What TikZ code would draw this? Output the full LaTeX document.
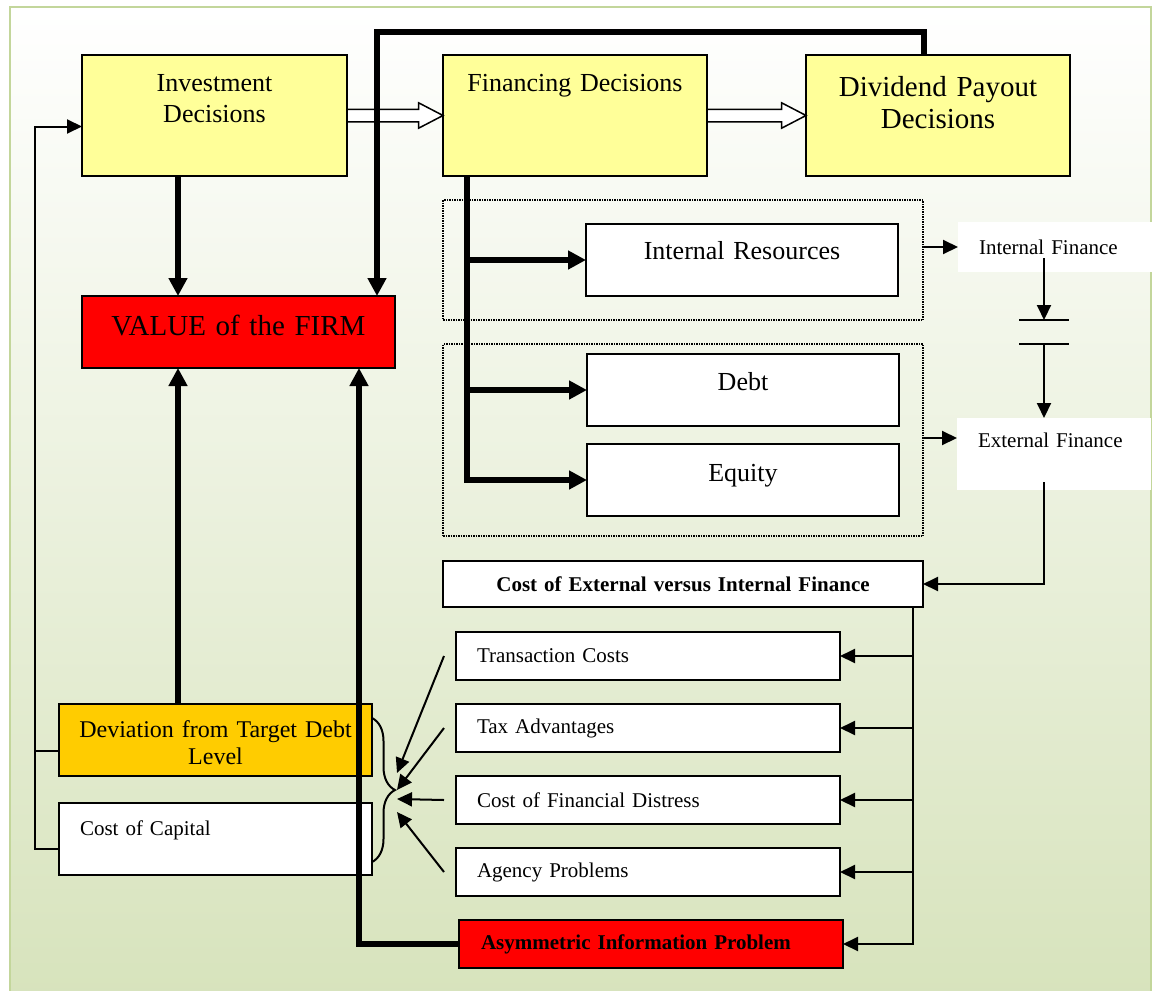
\documentclass[tikz,border=0pt]{standalone}
\usepackage{fontspec}
\setmainfont{Liberation Serif}
\usepackage{xcolor}
\usepackage{tikz}
\usetikzlibrary{positioning, calc, arrows.meta, shapes.arrows, decorations.pathreplacing}
\definecolor{decyellow}{HTML}{FFFF99}
\definecolor{firmred}{HTML}{FF0000}
\definecolor{devorange}{HTML}{FFCC00}
\definecolor{framegreen}{HTML}{C3D69B}
\definecolor{bggreen}{HTML}{D7E3BC}
\newcommand{\sizeXL}{\fontsize{29pt}{32pt}\selectfont}
\newcommand{\sizeL}{\fontsize{26pt}{30pt}\selectfont}
\newcommand{\sizeM}{\fontsize{24pt}{27pt}\selectfont}
\newcommand{\sizeS}{\fontsize{21pt}{24pt}\selectfont}

\begin{document}
\begin{tikzpicture}[x=1pt, y=1pt, node distance=24pt,
    box/.style={rectangle, draw=black, line width=2pt, inner sep=0pt, outer sep=0pt, align=center},
    decbox/.style={box, fill=decyellow, text width=265pt, text height=37pt, text depth=84pt, font=\sizeL},
    midbox/.style={box, fill=white, text width=312pt, text height=36pt, text depth=36pt, font=\sizeL},
    costbox/.style={box, fill=white, inner xsep=21pt, text width=342pt, align=left, minimum height=48pt, font=\sizeS},
    finbox/.style={rectangle, fill=white, inner ysep=0pt, inner xsep=21pt, outer sep=0pt, text width=152pt, align=left, font=\sizeS},
    groupbox/.style={rectangle, draw=black, line width=1.5pt, outer sep=0pt, densely dotted, minimum width=480pt},
    hollowarrow/.style={single arrow, draw=black, fill=white, line width=1.5pt, outer sep=0pt, inner xsep=0pt, inner ysep=5.5pt, single arrow head extend=6.5pt, single arrow tip angle=55, minimum height=#1},
    thinline/.style={line width=2pt},
    thinarrow/.style={thinline, -{Triangle[length=15pt, width=14pt]}},
    thickarrow/.style={line width=6pt, -{Triangle[length=18pt, width=18pt]}},
    bracket/.style={thinline, decorate, decoration={brace, amplitude=23pt}}]

    % Background
    \useasboundingbox (0,0) rectangle (1153,-990);
    \fill[white] (0,0) rectangle (1153,-990);
    \shade[top color=white, bottom color=bggreen] (10,-7) rectangle (1151,-1000);
    \draw[framegreen, line width=2.5pt] (10,-7) rectangle (1151,-1000);

    % Decisions
    \node[decbox, anchor=north west] (inv) at (82,-55) {Investment\\Decisions};
    \node[decbox, text width=264pt, right=96pt of inv] (fin) {Financing Decisions};
    \node[decbox, text width=264pt, font=\sizeXL, text height=41pt, text depth=80pt, right=99pt of fin] (div) {Dividend Payout\\Decisions};
    \node[midbox, fill=firmred, text width=313pt, font=\sizeXL, text height=39pt, text depth=33pt, below right=120pt and 0pt of inv.south west] (value) {VALUE of the FIRM};

    % Sources of finance
    \node[groupbox, minimum height=120pt, below right=24pt and 0pt of fin.south west] (grpint) {};
    \node[midbox, text height=35pt, text depth=37pt, below right=48pt and 143pt of fin.south west] (intres) {Internal Resources};
    \node[groupbox, minimum height=192pt, below=24pt of grpint] (grpext) {};
    \node[midbox, below=58pt of intres, xshift=1pt] (debt) {Debt};
    \node[midbox, text height=37pt, text depth=35pt, below=18pt of debt] (equity) {Equity};
    \node[finbox, minimum height=50pt, anchor=north west] (intfin) at (958,-222) {Internal Finance};
    \node[finbox, text height=29pt, text depth=43pt, anchor=north west] (extfin) at (957,-418) {External Finance};

    % Costs
    \node[box, fill=white, text width=480pt, minimum height=46pt, font=\sizeS\bfseries, below right=25pt and 0pt of grpext.south west] (costext) {Cost of External versus Internal Finance};
    \node[costbox, below right=25pt and 13pt of costext.south west] (trans) {Transaction Costs};
    \node[costbox, below=of trans] (tax) {Tax Advantages};
    \node[costbox, below=of tax] (distress) {Cost of Financial Distress};
    \node[costbox, below=of distress] (agency) {Agency Problems};
    \node[costbox, fill=firmred, inner xsep=22pt, text width=340pt, font=\sizeS\bfseries, below=of agency, xshift=3pt] (asym) {Asymmetric Information Problem};

    % Capital structure
    \node[midbox, fill=devorange, text width=313pt, font=\sizeM, text height=33pt, text depth=39pt, anchor=north west] (dev) at (59,-704) {Deviation from Target Debt\\Level};
    \node[midbox, text width=271pt, inner xsep=21pt, align=left, font=\sizeS, text height=32pt, text depth=40pt, below=27pt of dev] (cap) {Cost of Capital};

    % Helper points
    \coordinate (gaptop) at ($(intfin.south)+(-11,-48)$);
    \coordinate (gapbot) at ($(gaptop)+(0,-24)$);
    \coordinate (intout) at ($(gaptop |- intfin.south)+(0,14)$);
    \coordinate (extout) at ($(gapbot |- extfin.south)+(0,8)$);
    \coordinate (bracetip) at ($(dev.north east)+(25,-89)$);

    % Connections
    \node[hollowarrow=96pt, right=0pt of inv] (inv2fin) {};
    \node[hollowarrow=99pt, right=0pt of fin] (fin2div) {};
    \draw[thickarrow] ([xshift=96pt]inv.south west) -- ([xshift=96pt]value.north west);
    \draw[thickarrow] ([xshift=119pt]dev.north west) -- ([xshift=96pt]value.south west);
    \draw[thickarrow] ([xshift=118pt]div.north west) -- ++(0,23) -| ([xshift=295pt]value.north west);
    \draw[thickarrow] (asym.west) -| ([xshift=277pt]value.south west);
    \foreach \t in {intres, debt, equity}
        \draw[thickarrow] ([xshift=24pt]fin.south west) |- (\t.west);

    \draw[thinarrow] (grpint.east |- intfin.west) -- (intfin.west);
    \draw[thinarrow] (grpext.east |- extfin.west) ++(0,16) -- ([yshift=16pt]extfin.west);
    \draw[thinarrow] (intout) -- (gaptop);
    \draw[thinline] ([xshift=-25pt]gaptop) -- ([xshift=25pt]gaptop);
    \draw[thinline] ([xshift=-25pt]gapbot) -- ([xshift=25pt]gapbot);
    \draw[thinarrow] (gapbot) -- (gapbot |- extfin.north);
    \draw[thinarrow] (extout) |- (costext.east);
    \foreach \b in {trans, tax, distress, agency, asym}
        \draw[thinarrow] ([xshift=-10pt]costext.south east) |- (\b.east);

    \draw[bracket] ([yshift=-14pt]dev.north east) -- ([yshift=-59pt]cap.north east);
    \foreach \b/\s in {trans/20, tax/3, distress/-6, agency/-19}
        \draw[thinarrow] ([xshift=-12pt]\b.west) -- ([yshift=\s pt]bracetip);

    \draw[thinline] ([yshift=-11pt]dev.west) -- ++(-24,0);
    \draw[thinarrow] ([yshift=-10pt]cap.west) -- ++(-24,0) |- ([yshift=-11pt]inv.west);
\end{tikzpicture}
\end{document}
